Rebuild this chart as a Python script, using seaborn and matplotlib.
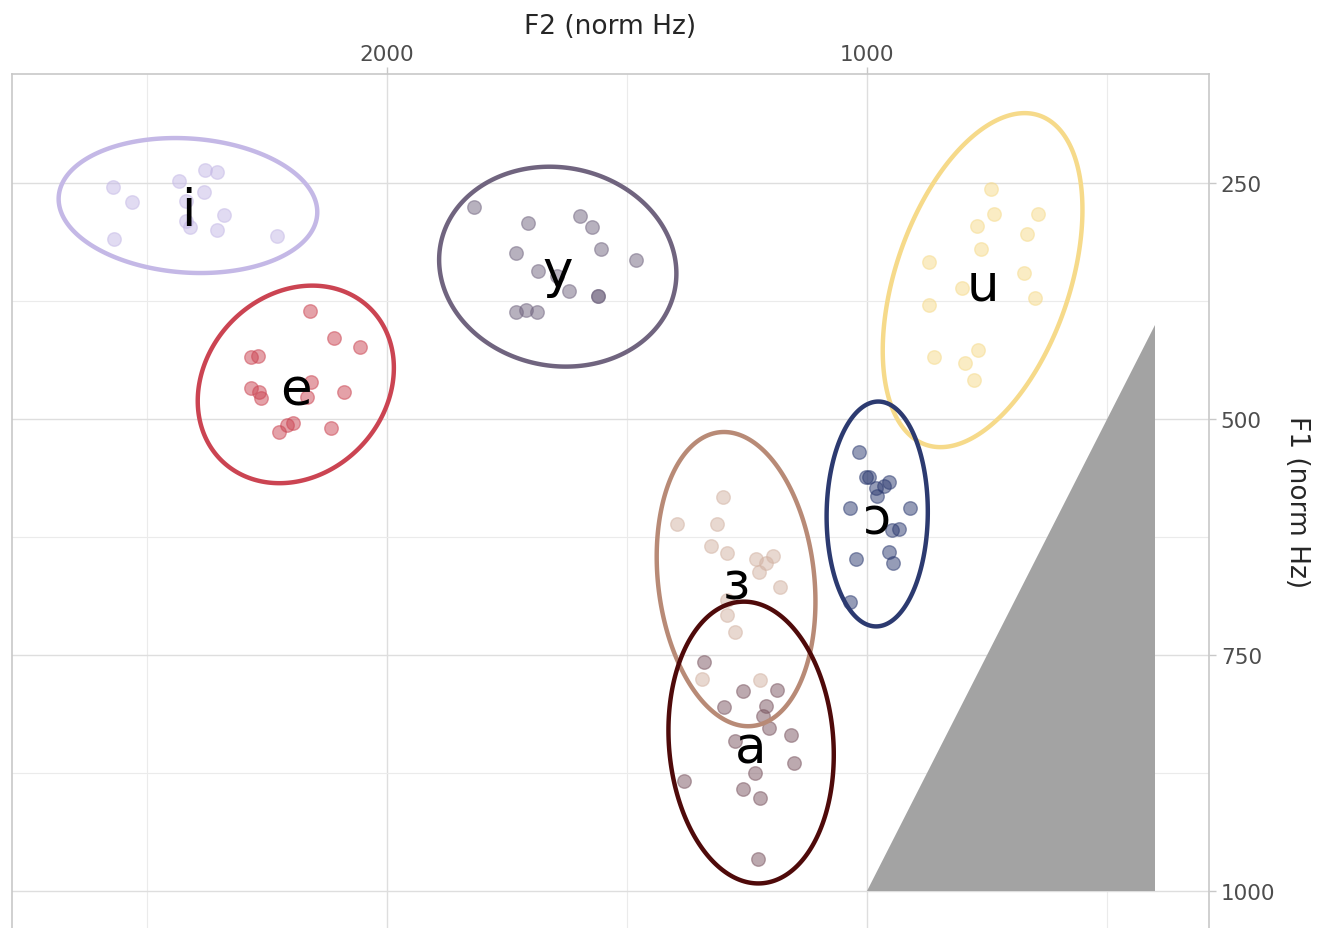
import numpy as np
import pandas as pd
import matplotlib
matplotlib.use("Agg")
import matplotlib.pyplot as plt
from matplotlib.patches import Polygon
import seaborn as sns

# ---- data (F2, F1 in norm Hz) ----
vowels = ["i", "e", "y", "u", "ɔ", "ɜ", "a"]
colors = ["#c4b8e6", "#cb4452", "#70647f", "#f6da8a", "#2c3a70", "#b88a76", "#4f0a0a"]
point_colors = ["#c4b8e6", "#cb4452", "#70647f", "#f6da8a", "#2c3a70", "#d2b2a2", "#7a5560"]

i_f2 = [2571, 2531, 2569, 2433, 2378, 2354, 2381, 2419, 2419, 2410, 2340, 2354, 2229]
i_f1 = [254, 270, 309, 248, 236, 238, 259, 269, 290, 297, 284, 300, 306]
e_f2 = [2160, 2110, 2056, 2283, 2268, 2283, 2266, 2262, 2159, 2167, 2089, 2195, 2208, 2224, 2117]
e_f1 = [386, 414, 424, 434, 433, 467, 471, 478, 461, 477, 471, 504, 506, 514, 510]
y_f2 = [1819, 1706, 1598, 1572, 1731, 1554, 1481, 1686, 1646, 1620, 1560, 1560, 1731, 1710, 1688]
y_f1 = [275, 292, 285, 297, 324, 320, 332, 343, 348, 364, 370, 370, 387, 385, 387]
u_f2 = [741, 735, 643, 771, 667, 763, 871, 672, 801, 871, 651, 860, 768, 795, 778]
u_f1 = [256, 283, 283, 295, 304, 320, 334, 345, 361, 379, 372, 434, 427, 441, 459]
o_f2 = [1017, 1002, 996, 981, 965, 954, 980, 1035, 910, 948, 933, 1023, 955, 946, 1035]
o_f1 = [535, 561, 561, 573, 571, 567, 582, 594, 594, 618, 617, 648, 641, 653, 694]
er_f2 = [1299, 1396, 1313, 1324, 1292, 1231, 1210, 1195, 1225, 1181, 1291, 1292, 1274, 1344, 1223]
er_f1 = [583, 611, 611, 634, 642, 648, 653, 645, 662, 678, 692, 708, 726, 775, 776]
a_f2 = [1340, 1259, 1188, 1297, 1210, 1216, 1205, 1274, 1158, 1151, 1234, 1381, 1258, 1223, 1226]
a_f1 = [757, 788, 787, 805, 804, 815, 827, 841, 835, 864, 875, 883, 892, 902, 966]

tri_f2 = [1000, 400, 400]
tri_f1 = [1000, 1000, 400]

x_ticks = [2000, 1000]
y_ticks = [250, 500, 750, 1000]

f2_lists = [i_f2, e_f2, y_f2, u_f2, o_f2, er_f2, a_f2]
f1_lists = [i_f1, e_f1, y_f1, u_f1, o_f1, er_f1, a_f1]

rows = []
for v, xs, ys in zip(vowels, f2_lists, f1_lists):
    for x, y in zip(xs, ys):
        rows.append({"vowel": v, "F2": x, "F1": y})
df = pd.DataFrame(rows)

# F(0.95; 2, n-1) quantiles for ellipse radius (stat_ellipse-like)
F95 = {12: 3.885, 13: 3.806, 14: 3.739, 15: 3.682}

sns.set_style("white")
plt.rcParams["font.family"] = ["DejaVu Sans"]

fig = plt.figure(figsize=(13.19, 9.29), dpi=100)
ax = fig.add_axes([12/1319, 0.0, (1209-12)/1319, 1 - 75/929])

# grid
for xv in [2500, 1500, 500]:
    ax.axvline(xv, color="#ebebeb", lw=0.8, zorder=0)
for xv in x_ticks:
    ax.axvline(xv, color="#dedede", lw=1.0, zorder=0)
for yv in [375, 625, 875]:
    ax.axhline(yv, color="#ebebeb", lw=0.8, zorder=0)
for yv in y_ticks:
    ax.axhline(yv, color="#dedede", lw=1.0, zorder=0)

ax.fill(tri_f2, tri_f1, color="#a3a3a3", lw=0, zorder=1)

pal = dict(zip(vowels, point_colors))
for v in vowels:
    sub = df[df["vowel"] == v]
    sns.scatterplot(data=sub, x="F2", y="F1", color=pal[v], s=95, alpha=0.5,
                    edgecolor=pal[v], linewidth=1.0, legend=False, ax=ax, zorder=2)

t = np.linspace(0, 2*np.pi, 300, endpoint=False)
for v, c, xs, ys in zip(vowels, colors, f2_lists, f1_lists):
    pts = np.column_stack([xs, ys]).astype(float)
    n = len(pts)
    mu = pts.mean(axis=0)
    cov = np.cov(pts.T)
    r = np.sqrt(2 * F95.get(n - 1, 3.7))
    L = np.linalg.cholesky(cov)
    circ = np.vstack([np.cos(t), np.sin(t)])
    ell = (L @ circ) * r + mu[:, None]
    ax.add_patch(Polygon(ell.T, closed=True, fill=False, edgecolor=c, lw=3.2,
                         joinstyle="round", zorder=3))
    ax.text(mu[0], mu[1] + 6, v, fontsize=37, ha="center", va="center",
            color="black", zorder=4)

ax.set_xlim(2781, 287.5)
ax.set_ylim(1039.2, 134.5)
ax.set_xticks(x_ticks)
ax.set_yticks(y_ticks)
ax.xaxis.tick_top()
ax.xaxis.set_label_position("top")
ax.yaxis.tick_right()
ax.yaxis.set_label_position("right")
ax.tick_params(axis="both", labelsize=15.5, labelcolor="#4d4d4d", color="#c8c8c8",
               length=5, width=1)
ax.tick_params(axis="x", pad=2)
ax.set_xlabel("F2 (norm Hz)", fontsize=19, labelpad=8)
ax.set_ylabel("F1 (norm Hz)", fontsize=19, rotation=-90, labelpad=25)
for side in ["left", "top", "right"]:
    ax.spines[side].set_visible(True)
    ax.spines[side].set_color("#c8c8c8")
    ax.spines[side].set_linewidth(1.2)
ax.spines["bottom"].set_visible(False)

fig.savefig("out.png", dpi=100)
